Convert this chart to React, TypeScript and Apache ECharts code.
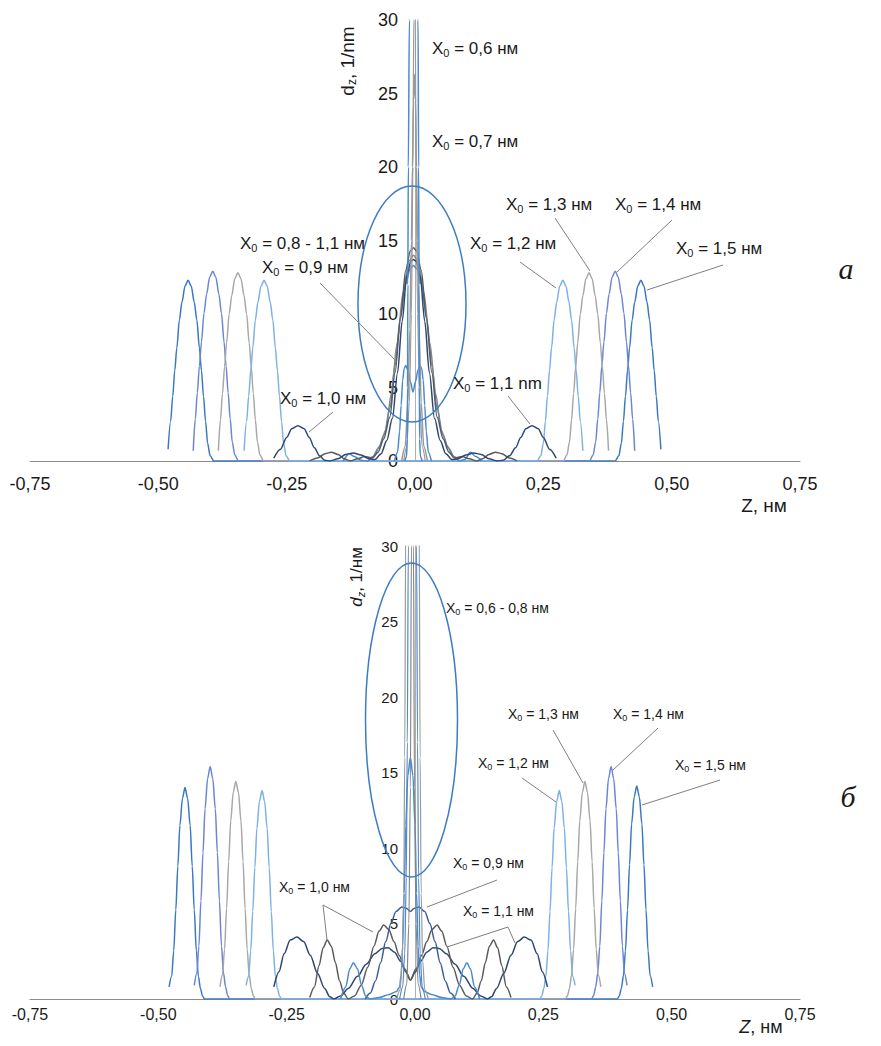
import React, { useEffect, useRef } from "react";
import * as echarts from "echarts";

const F = "'Liberation Sans', Arial, sans-serif";

// ---------- axis ticks ----------
const xTicks = [-0.75, -0.5, -0.25, 0, 0.25, 0.5, 0.75];
const yTicks = [0, 5, 10, 15, 20, 25, 30];

// ---------- chart a (top) ----------
const a15 = [[-0.481,0.8],[-0.476,2.7],[-0.472,4.4],[-0.468,6.15],[-0.464,7.7],[-0.459,9.6],[-0.454,10.8],[-0.448,11.9],[-0.442,12.3],[-0.436,11.9],[-0.430,10.8],[-0.425,9.6],[-0.420,7.7],[-0.416,6.15],[-0.412,4.4],[-0.408,2.7],[-0.404,1.2],[-0.399,0.35],[-0.392,0],[0.390,0],[0.397,0.35],[0.402,1.2],[0.406,2.7],[0.410,4.4],[0.414,6.15],[0.418,7.7],[0.423,9.6],[0.428,10.8],[0.434,11.9],[0.440,12.3],[0.446,11.9],[0.452,10.8],[0.457,9.6],[0.462,7.7],[0.466,6.15],[0.470,4.4],[0.474,2.7],[0.479,0.8]];
const a14 = [[-0.432,0.7],[-0.428,2.85],[-0.424,4.65],[-0.420,6.45],[-0.416,8.1],[-0.411,10.05],[-0.406,11.35],[-0.400,12.5],[-0.394,12.9],[-0.388,12.5],[-0.382,11.35],[-0.377,10.05],[-0.372,8.1],[-0.368,6.45],[-0.364,4.65],[-0.360,2.85],[-0.356,1.3],[-0.351,0.4],[-0.344,0],[0.340,0],[0.347,0.4],[0.352,1.3],[0.356,2.85],[0.360,4.65],[0.364,6.45],[0.368,8.1],[0.373,10.05],[0.378,11.35],[0.384,12.5],[0.390,12.9],[0.396,12.5],[0.402,11.35],[0.407,10.05],[0.412,8.1],[0.416,6.45],[0.420,4.65],[0.424,2.85],[0.428,0.7]];
const a13 = [[-0.383,0.7],[-0.379,2.8],[-0.375,4.6],[-0.371,6.4],[-0.367,8.05],[-0.362,10.0],[-0.357,11.25],[-0.351,12.4],[-0.345,12.8],[-0.339,12.4],[-0.333,11.25],[-0.328,10.0],[-0.323,8.05],[-0.319,6.4],[-0.315,4.6],[-0.311,2.8],[-0.307,1.3],[-0.302,0.4],[-0.295,0],[0.289,0],[0.296,0.4],[0.301,1.3],[0.305,2.8],[0.309,4.6],[0.313,6.4],[0.317,8.05],[0.322,10.0],[0.327,11.25],[0.333,12.4],[0.339,12.8],[0.345,12.4],[0.351,11.25],[0.356,10.0],[0.361,8.05],[0.365,6.4],[0.369,4.6],[0.373,2.8],[0.377,0.7]];
const a12 = [[-0.333,0.7],[-0.328,2.7],[-0.324,4.4],[-0.320,6.15],[-0.316,7.7],[-0.311,9.6],[-0.306,10.8],[-0.300,11.9],[-0.294,12.3],[-0.288,11.9],[-0.282,10.8],[-0.277,9.6],[-0.272,7.7],[-0.268,6.15],[-0.264,4.4],[-0.260,2.7],[-0.256,1.2],[-0.251,0.35],[-0.244,0],[0.238,0],[0.245,0.35],[0.250,1.2],[0.254,2.7],[0.258,4.4],[0.262,6.15],[0.266,7.7],[0.271,9.6],[0.276,10.8],[0.282,11.9],[0.288,12.3],[0.294,11.9],[0.300,10.8],[0.305,9.6],[0.310,7.7],[0.314,6.15],[0.318,4.4],[0.322,2.7],[0.327,0.7]];
const a11 = [[-0.275,0.2],[-0.262,0.8],[-0.250,1.6],[-0.240,2.2],[-0.228,2.4],[-0.216,2.2],[-0.206,1.6],[-0.196,0.9],[-0.186,0.35],[-0.176,0.05],[-0.166,0],[-0.150,0.15],[-0.135,0.45],[-0.120,0.55],[-0.105,0.4],[-0.090,0.15],[-0.078,0.1],[-0.066,0.5],[-0.055,1.4],[-0.044,2.9],[-0.034,6.0],[-0.025,9.5],[-0.016,12.6],[-0.008,13.6],[-0.003,13.7],[0.002,13.6],[0.010,12.6],[0.019,9.5],[0.028,6.0],[0.038,2.9],[0.049,1.4],[0.060,0.5],[0.072,0.1],[0.084,0.15],[0.099,0.4],[0.114,0.55],[0.129,0.45],[0.144,0.15],[0.160,0],[0.172,0.05],[0.184,0.35],[0.196,0.9],[0.206,1.6],[0.216,2.2],[0.228,2.4],[0.240,2.2],[0.250,1.6],[0.262,0.8],[0.275,0.2]];
const a10 = [[-0.205,0],[-0.190,0.2],[-0.175,0.5],[-0.163,0.6],[-0.150,0.45],[-0.138,0.15],[-0.126,0],[-0.112,0.15],[-0.098,0.3],[-0.083,0.2],[-0.072,0.6],[-0.061,1.5],[-0.049,3.0],[-0.039,6.0],[-0.028,9.8],[-0.018,13.0],[-0.009,14.3],[-0.003,14.5],[0.003,14.3],[0.012,13.0],[0.022,9.8],[0.033,6.0],[0.043,3.0],[0.055,1.5],[0.066,0.6],[0.077,0.2],[0.092,0.3],[0.106,0.15],[0.120,0],[0.132,0.15],[0.144,0.45],[0.157,0.6],[0.169,0.5],[0.184,0.2],[0.199,0]];
const a08g = [[-0.091,0],[-0.080,0.3],[-0.069,1.0],[-0.057,2.1],[-0.046,4.6],[-0.035,8],[-0.023,11.5],[-0.012,13.6],[-0.003,14.0],[0.006,13.6],[0.017,11.5],[0.029,8],[0.040,4.6],[0.051,2.1],[0.063,1.0],[0.074,0.3],[0.085,0]];
const a08b = [[-0.140,0],[-0.128,0.5],[-0.118,0.3],[-0.105,0.05],[-0.092,0],[-0.082,0.3],[-0.071,0.9],[-0.060,1.8],[-0.049,3.6],[-0.039,6.5],[-0.029,9.6],[-0.019,12],[-0.009,13.1],[-0.003,13.3],[0.003,13.1],[0.013,12],[0.023,9.6],[0.033,6.5],[0.043,3.6],[0.054,1.8],[0.065,0.9],[0.076,0.3],[0.086,0],[0.097,0.1],[0.108,0.6],[0.118,0.3],[0.130,0]];
const a09 = [[-0.040,0],[-0.034,0.6],[-0.030,2],[-0.027,3.8],[-0.024,5.5],[-0.021,6.3],[-0.018,6.5],[-0.014,6.2],[-0.009,5.4],[-0.004,4.7],[0.001,5.4],[0.006,6.2],[0.010,6.5],[0.013,6.3],[0.016,5.5],[0.019,3.8],[0.022,2],[0.026,0.6],[0.032,0]];
const a07 = [[-0.026,0],[-0.019,1],[-0.014,4],[-0.010,9],[-0.007,15],[-0.005,20],[-0.003,24.5],[-0.001,26.3],[0.001,24.5],[0.003,20],[0.005,15],[0.008,9],[0.012,4],[0.017,1],[0.024,0]];
const a07b = [[-0.022,0],[-0.016,1],[-0.011,4],[-0.007,10],[-0.004,20],[-0.0025,30],[-0.001,45],[0.0005,30],[0.002,20],[0.005,10],[0.009,4],[0.014,1],[0.020,0]];
const a06 = [[-0.020,0],[-0.0165,0.3],[-0.015,1.5],[-0.0145,5],[-0.014,12],[-0.013,20],[-0.011,30],[-0.008,45],[-0.002,55],[0.003,45],[0.006,30],[0.007,20],[0.008,12],[0.0085,5],[0.009,1.5],[0.0105,0.3],[0.014,0]];

// ---------- chart б (bottom) ----------
const b15 = [[-0.479,0.8],[-0.474,1.5],[-0.470,3.2],[-0.466,5.9],[-0.462,8.8],[-0.458,11.5],[-0.453,13.3],[-0.448,14.0],[-0.443,13.3],[-0.438,11.5],[-0.434,8.8],[-0.430,5.9],[-0.426,3.2],[-0.422,1.5],[-0.418,0.7],[-0.414,0.2],[-0.410,0],[0.394,0],[0.398,0.2],[0.402,0.7],[0.406,1.55],[0.410,3.2],[0.414,5.9],[0.418,8.9],[0.422,11.6],[0.427,13.4],[0.432,14.1],[0.437,13.4],[0.442,11.6],[0.446,8.9],[0.450,5.9],[0.454,3.2],[0.458,1.55],[0.463,0.8]];
const b14 = [[-0.430,0.9],[-0.425,1.7],[-0.421,3.5],[-0.417,6.5],[-0.413,9.7],[-0.409,12.6],[-0.404,14.6],[-0.399,15.4],[-0.394,14.6],[-0.389,12.6],[-0.385,9.7],[-0.381,6.5],[-0.377,3.5],[-0.373,1.7],[-0.369,0.8],[-0.365,0.23],[-0.361,0],[0.344,0],[0.348,0.23],[0.352,0.8],[0.356,1.7],[0.360,3.5],[0.364,6.5],[0.368,9.7],[0.372,12.6],[0.377,14.6],[0.382,15.4],[0.387,14.6],[0.392,12.6],[0.396,9.7],[0.400,6.5],[0.404,3.5],[0.408,1.7],[0.413,0.9]];
const b13 = [[-0.380,0.8],[-0.375,1.6],[-0.371,3.3],[-0.367,6.0],[-0.363,9.1],[-0.359,11.8],[-0.354,13.7],[-0.349,14.4],[-0.344,13.7],[-0.339,11.8],[-0.335,9.1],[-0.331,6.0],[-0.327,3.3],[-0.323,1.6],[-0.319,0.7],[-0.315,0.22],[-0.311,0],[0.293,0],[0.297,0.22],[0.301,0.7],[0.305,1.6],[0.309,3.3],[0.313,6.0],[0.317,9.1],[0.321,11.8],[0.326,13.7],[0.331,14.4],[0.336,13.7],[0.341,11.8],[0.345,9.1],[0.349,6.0],[0.353,3.3],[0.357,1.6],[0.362,0.8]];
const b12 = [[-0.329,0.9],[-0.324,1.5],[-0.320,3.2],[-0.316,5.8],[-0.312,8.7],[-0.308,11.3],[-0.303,13.1],[-0.298,13.8],[-0.293,13.1],[-0.288,11.3],[-0.284,8.7],[-0.280,5.8],[-0.276,3.2],[-0.272,1.5],[-0.268,0.7],[-0.264,0.2],[-0.260,0],[0.243,0],[0.247,0.2],[0.251,0.7],[0.255,1.5],[0.259,3.2],[0.263,5.8],[0.267,8.7],[0.271,11.3],[0.276,13.1],[0.281,13.8],[0.286,13.1],[0.291,11.3],[0.295,8.7],[0.299,5.8],[0.303,3.2],[0.307,1.5],[0.312,0.9]];
const b11 = [[-0.275,0.8],[-0.265,1.8],[-0.255,3.0],[-0.243,3.9],[-0.230,4.1],[-0.217,3.8],[-0.204,2.9],[-0.190,1.7],[-0.176,0.7],[-0.166,0.15],[-0.158,0],[-0.145,0.2],[-0.130,0.7],[-0.112,1.5],[-0.095,2.3],[-0.078,3.0],[-0.064,3.35],[-0.052,3.4],[-0.040,3.1],[-0.028,2.5],[-0.018,1.8],[-0.009,1.26],[0.001,1.8],[0.011,2.5],[0.023,3.1],[0.035,3.4],[0.047,3.35],[0.061,3.0],[0.078,2.3],[0.095,1.5],[0.113,0.7],[0.128,0.2],[0.141,0],[0.149,0.15],[0.159,0.7],[0.173,1.7],[0.187,2.9],[0.200,3.8],[0.213,4.1],[0.226,3.9],[0.238,3.0],[0.248,1.8],[0.258,0.8]];
const b10 = [[-0.205,0.1],[-0.196,0.8],[-0.187,2.2],[-0.179,3.4],[-0.171,3.9],[-0.163,3.5],[-0.155,2.4],[-0.147,1.2],[-0.139,0.4],[-0.130,0],[-0.118,0.2],[-0.105,0.9],[-0.092,2.1],[-0.080,3.5],[-0.070,4.5],[-0.061,4.9],[-0.051,4.6],[-0.041,3.8],[-0.031,2.9],[-0.020,2.0],[-0.009,1.26],[0.002,2.0],[0.013,2.9],[0.023,3.8],[0.033,4.6],[0.043,4.9],[0.052,4.5],[0.062,3.5],[0.074,2.1],[0.087,0.9],[0.100,0.2],[0.112,0],[0.121,0.4],[0.129,1.2],[0.137,2.4],[0.145,3.5],[0.153,3.9],[0.161,3.4],[0.169,2.2],[0.178,0.8],[0.187,0.1]];
const b09 = [[-0.097,0],[-0.087,0.4],[-0.077,1.2],[-0.067,2.4],[-0.057,3.8],[-0.047,5.0],[-0.037,5.8],[-0.026,6.1],[-0.016,6.0],[-0.009,5.8],[-0.002,6.0],[0.008,6.1],[0.019,5.8],[0.029,5.0],[0.039,3.8],[0.049,2.4],[0.059,1.2],[0.069,0.4],[0.079,0]];
const b08 = [[-0.145,0],[-0.135,0.8],[-0.127,2.0],[-0.120,2.4],[-0.112,2.0],[-0.104,0.9],[-0.096,0.2],[-0.088,0],[-0.070,0.1],[-0.050,0.3],[-0.036,0.5],[-0.030,0.8],[-0.027,1.6],[-0.024,3.5],[-0.021,7],[-0.018,11.5],[-0.014,14.8],[-0.009,16.0],[-0.004,14.8],[0.000,11.5],[0.003,7],[0.006,3.5],[0.009,1.6],[0.012,0.8],[0.018,0.5],[0.032,0.3],[0.052,0.1],[0.070,0],[0.078,0.2],[0.086,0.9],[0.094,2.0],[0.101,2.4],[0.108,2.0],[0.116,0.8],[0.126,0]];
const b07 = [[-0.030,0],[-0.024,0.8],[-0.020,3],[-0.017,8],[-0.015,17],[-0.013,30],[-0.010,55],[-0.005,80],[0,55],[0.003,30],[0.005,17],[0.007,8],[0.010,3],[0.014,0.8],[0.020,0]];
const b06 = [[-0.036,0],[-0.029,0.6],[-0.025,2.5],[-0.022,7],[-0.020,16],[-0.018,32],[-0.014,70],[-0.005,100],[0.004,70],[0.008,32],[0.010,16],[0.012,7],[0.015,2.5],[0.019,0.6],[0.026,0]];
const b06b = [[-0.022,0],[-0.016,1],[-0.012,5],[-0.009,14],[-0.007,30],[-0.005,50],[-0.003,30],[-0.001,14],[0.002,5],[0.006,1],[0.012,0]];

const C15 = "#3a78c2", C14 = "#6a86d4", C13 = "#a8a8a8", C12 = "#7eb1e4";
const NAVY = "#2e4673", DGREY = "#5a5a5a", BLUE = "#4a8ad0", GREY = "#9a9a9a", MGREY = "#858585";

function ser(name: string, data: number[][], color: string, g: number, w = 1.5) {
  return {
    name, type: "line", xAxisIndex: g, yAxisIndex: g, data,
    showSymbol: false, smooth: 0.3, smoothMonotone: "x", clip: true,
    lineStyle: { color, width: w }, itemStyle: { color }, z: 2,
  };
}

function lbl(rest: string, x: number, y: number, size: number) {
  const sub = Math.round(size * 0.65);
  return {
    type: "text", x, y, z: 100,
    style: {
      text: `{a|X}{b|0}{a| = ${rest}}`,
      verticalAlign: "middle", align: "left",
      rich: {
        a: { fontSize: size, fontFamily: F, fill: "#1a1a1a", lineHeight: size + 3, verticalAlign: "middle" },
        b: { fontSize: sub, fontFamily: F, fill: "#1a1a1a", lineHeight: sub, verticalAlign: "bottom" },
      },
    },
  };
}
function ln(x1: number, y1: number, x2: number, y2: number) {
  return { type: "line", z: 90, shape: { x1, y1, x2, y2 }, style: { stroke: "#7f7f7f", lineWidth: 1 } };
}
function pl(points: number[][]) {
  return { type: "polyline", z: 90, shape: { points }, style: { stroke: "#7f7f7f", lineWidth: 1, fill: null } };
}

const fmtX = (v: number) => v.toFixed(2).replace(".", ",");

export default function App() {
  const ref = useRef<HTMLDivElement>(null);
  useEffect(() => {
    if (!ref.current) return;
    const chart = echarts.init(ref.current, undefined, { renderer: "svg" });
    const xAx = (g: number, fs: number, margin: number) => ({
      type: "value", gridIndex: g, min: xTicks[0], max: xTicks[xTicks.length - 1], interval: 0.25,
      axisLine: { show: true, onZero: false, lineStyle: { color: "#8c8c8c", width: 1 } },
      axisTick: { show: false }, splitLine: { show: false },
      axisLabel: { fontSize: fs, fontFamily: F, color: "#1a1a1a", margin, formatter: fmtX, showMinLabel: true, showMaxLabel: true },
    });
    const yAx = (g: number, fs: number, margin: number) => ({
      type: "value", gridIndex: g, min: yTicks[0], max: yTicks[yTicks.length - 1], interval: 5,
      position: "left", offset: -385,
      axisLine: { show: true, onZero: false, lineStyle: { color: "#b0b0b0", width: 1 } },
      axisTick: { show: false }, splitLine: { show: false },
      axisLabel: { fontSize: fs, fontFamily: F, color: "#1a1a1a", margin },
    });
    const option: any = {
      animation: false,
      backgroundColor: "#ffffff",
      grid: [
        { left: 30, top: 20, width: 770, height: 441 },
        { left: 30, top: 546, width: 770, height: 453 },
      ],
      xAxis: [xAx(0, 18, 14), xAx(1, 16, 7)],
      yAxis: [yAx(0, 18, 17), yAx(1, 15, 17)],
      series: [
        ser("a 1,5", a15, C15, 0), ser("a 1,4", a14, C14, 0), ser("a 1,3", a13, C13, 0), ser("a 1,2", a12, C12, 0),
        ser("a 0,8 blue", a08b, BLUE, 0), ser("a 0,8 grey", a08g, MGREY, 0),
        ser("a 1,0", a10, DGREY, 0), ser("a 1,0-1,1", a11, NAVY, 0),
        ser("a 0,9", a09, BLUE, 0), ser("a 0,7", a07, GREY, 0), ser("a 0,7b", a07b, GREY, 0, 1.2), ser("a 0,6", a06, BLUE, 0),
        ser("b 1,5", b15, C15, 1), ser("b 1,4", b14, C14, 1), ser("b 1,3", b13, C13, 1), ser("b 1,2", b12, C12, 1),
        ser("b 1,1", b11, NAVY, 1), ser("b 1,0", b10, DGREY, 1), ser("b 0,9", b09, "#3a5d98", 1),
        ser("b 0,8", b08, BLUE, 1), ser("b 0,7", b07, BLUE, 1, 1.2), ser("b 0,6", b06, GREY, 1, 1.2), ser("b 0,6b", b06b, MGREY, 1, 1.2),
      ],
      graphic: [
        { type: "ellipse", z: 80, shape: { cx: 412, cy: 304, rx: 54, ry: 118 }, style: { stroke: "#3c7cc3", lineWidth: 1.5, fill: null } },
        { type: "ellipse", z: 80, shape: { cx: 411.5, cy: 720, rx: 46, ry: 157 }, style: { stroke: "#3c7cc3", lineWidth: 1.5, fill: null } },
        // top labels
        lbl("0,6 нм", 432, 48, 17), lbl("0,7 нм", 432, 141, 17), lbl("0,8 - 1,1 нм", 240, 243, 17),
        lbl("0,9 нм", 262, 267, 17), lbl("1,0 нм", 280, 398, 17), lbl("1,1 nm", 453, 383, 17),
        lbl("1,2 нм", 470, 243, 17), lbl("1,3 нм", 506, 204, 17), lbl("1,4 нм", 615, 204, 17), lbl("1,5 нм", 676, 248, 17),
        ln(320, 283, 397, 362), ln(333, 412, 309, 432), ln(508, 396, 530, 424),
        ln(520, 262, 556, 288), ln(555, 218, 590, 271), ln(672, 220, 617, 272), ln(723, 265, 647, 290),
        // bottom labels
        lbl("0,6 - 0,8 нм", 446, 608, 14), lbl("0,9 нм", 453, 863, 14), lbl("1,0 нм", 279, 887, 14),
        lbl("1,1 нм", 463, 911, 14), lbl("1,2 нм", 478, 763, 14), lbl("1,3 нм", 508, 714, 14),
        lbl("1,4 нм", 613, 714, 14), lbl("1,5 нм", 675, 765, 14),
        ln(497, 880, 427, 907), ln(323, 905, 327, 940), ln(323, 905, 373, 932),
        pl([[447, 947], [508, 927], [515, 943]]),
        ln(522, 778, 556, 802), ln(553, 730, 583, 783), ln(658, 728, 613, 770), ln(720, 780, 642, 805),
        // axis titles
        {
          type: "text", x: 347, y: 61, rotation: Math.PI / 2, z: 100,
          style: {
            text: "{d|d}{s|z}{d|, 1/nm}", align: "center", verticalAlign: "middle",
            rich: {
              d: { fontSize: 19, fontFamily: F, fill: "#1a1a1a", lineHeight: 22, verticalAlign: "middle" },
              s: { fontSize: 12, fontFamily: F, fill: "#1a1a1a", lineHeight: 12, verticalAlign: "bottom" },
            },
          },
        },
        {
          type: "text", x: 356, y: 577, rotation: Math.PI / 2, z: 100,
          style: {
            text: "{di|d}{s|z}{d|, 1/нм}", align: "center", verticalAlign: "middle",
            rich: {
              di: { fontSize: 17, fontFamily: F, fontStyle: "italic", fill: "#1a1a1a", lineHeight: 20, verticalAlign: "middle" },
              d: { fontSize: 17, fontFamily: F, fill: "#1a1a1a", lineHeight: 20, verticalAlign: "middle" },
              s: { fontSize: 11, fontFamily: F, fontStyle: "italic", fill: "#1a1a1a", lineHeight: 11, verticalAlign: "bottom" },
            },
          },
        },
        { type: "text", x: 764, y: 505, z: 100, style: { text: "Z, нм", fontSize: 19, fontFamily: F, fill: "#1a1a1a", align: "center", verticalAlign: "middle" } },
        {
          type: "text", x: 761, y: 1027, z: 100,
          style: {
            text: "{zi|Z}{d|, нм}", align: "center", verticalAlign: "middle",
            rich: {
              zi: { fontSize: 18, fontFamily: F, fontStyle: "italic", fill: "#1a1a1a" },
              d: { fontSize: 18, fontFamily: F, fill: "#1a1a1a" },
            },
          },
        },
        { type: "text", x: 846, y: 268, z: 100, style: { text: "а", fontSize: 30, fontFamily: "'Liberation Serif', 'Times New Roman', serif", fontStyle: "italic", fill: "#1a1a1a", align: "center", verticalAlign: "middle" } },
        { type: "text", x: 848, y: 796, z: 100, style: { text: "б", fontSize: 30, fontFamily: "'Liberation Serif', 'Times New Roman', serif", fontStyle: "italic", fill: "#1a1a1a", align: "center", verticalAlign: "middle" } },
      ],
    };
    chart.setOption(option);
    return () => chart.dispose();
  }, []);
  return <div ref={ref} style={{ position: "fixed", left: 0, top: 0, width: 881, height: 1046, background: "#fff" }} />;
}
